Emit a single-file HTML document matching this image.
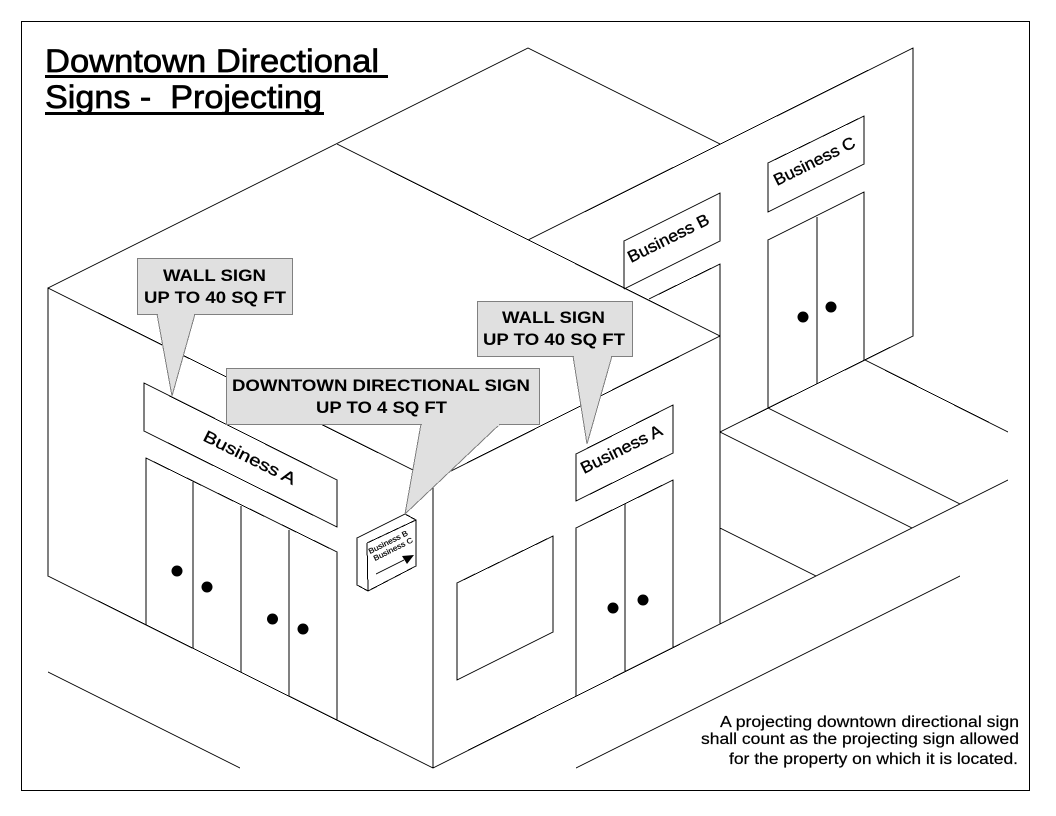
<!DOCTYPE html>
<html><head><meta charset="utf-8"><style>
html,body{margin:0;padding:0;background:#fff;width:1056px;height:816px;overflow:hidden}
svg{display:block}
text{font-family:"Liberation Sans",sans-serif;fill:#000;white-space:pre}
.l{fill:none;stroke:#000;stroke-width:1;shape-rendering:crispEdges}
.c{fill:#e0e0e0;stroke:#808080;stroke-width:1;shape-rendering:crispEdges}
.n{fill:#e0e0e0;stroke:none;shape-rendering:crispEdges}
.b{font-weight:bold;font-size:17px}
.s{font-size:16.500px;stroke:#000;stroke-width:.35px}
.t{font-size:32px;stroke:#000;stroke-width:.7px}
.f{font-size:15.500px;stroke:#000;stroke-width:.2px}
.m{font-size:7.500px;stroke:#000;stroke-width:.2px}
</style></head><body>
<svg width="1056" height="816" viewBox="0 0 1056 816" xmlns="http://www.w3.org/2000/svg">
<rect x="21.500" y="21.500" width="1008" height="769" class="l"/>
<g class="l">
<path d="M48 288V576L433 768V480L48 288L528 48L720 144M337 144L720 336V624L433 768M433 480L720 336"/>
<path d="M528 240L913 48V336L720 432"/>
<path d="M865 360L1008 432M768 408L960 504M720 432L912 528M720 528L816 576M720 624L1008 480M576 768L960 576M48 672L240 768"/>
<path d="M144 383L337 480V527L144 431Z"/>
<path d="M146 625V458L337 552V720M193 482V648M241 506V672M289 530V696"/>
<path d="M457 583L553 536V632L457 680Z"/>
<path d="M576 454L673 405V453L576 501Z"/>
<path d="M576 696V528L673 480V648M625 504V672"/>
<path d="M624 289V241L720 193V241L624 289"/>
<path d="M649 299L720 264V336"/>
<path d="M768 163L864 116V164L768 212Z"/>
<path d="M768 408V240L864 192V360M817 217V384"/>
</g>
<g fill="#000">
<circle cx="177" cy="571" r="5.500"/><circle cx="207" cy="587" r="5.500"/>
<circle cx="272.500" cy="619" r="5.500"/><circle cx="303" cy="629" r="5.500"/>
<circle cx="613" cy="608" r="5.500"/><circle cx="643" cy="600" r="5.500"/>
<circle cx="803" cy="317" r="5.500"/><circle cx="831" cy="307" r="5.500"/>
</g>
<path d="M357 538L405 514L416 520V566L368 591L357 585ZM367 543L368 591M367 543L416 520" fill="#fff" stroke="#000" shape-rendering="crispEdges"/>
<path d="M376 574L404 560" stroke="#000" fill="none" shape-rendering="crispEdges"/>
<path d="M402 556L414 555L407 564Z" fill="#000"/>
<text class="m" textLength="43" lengthAdjust="spacingAndGlyphs" transform="translate(370,554) rotate(-26.500)">Business B</text>
<text class="m" textLength="43" lengthAdjust="spacingAndGlyphs" transform="translate(375,561) rotate(-26.500)">Business C</text>

<path class="n" d="M157 314L172 396L195 314Z"/>
<path class="l" style="stroke:#808080" d="M157 314L172 396L195 314"/>
<rect class="c" x="137.500" y="258.500" width="155" height="56"/>
<path class="n" d="M158 313H194V316H158Z"/>
<text class="b" x="163" y="281" textLength="103" lengthAdjust="spacingAndGlyphs">WALL SIGN</text>
<text class="b" x="144" y="303" textLength="142" lengthAdjust="spacingAndGlyphs">UP TO 40 SQ FT</text>

<path class="n" d="M421 424L405 514L500 424Z"/>
<path class="l" style="stroke:#808080" d="M421 424L405 514L500 424"/>
<rect class="c" x="226.500" y="368.500" width="313" height="56"/>
<path class="n" d="M422 423H499V426H422Z"/>
<text class="b" x="232" y="391" textLength="298" lengthAdjust="spacingAndGlyphs">DOWNTOWN DIRECTIONAL SIGN</text>
<text class="b" x="316" y="413" textLength="131" lengthAdjust="spacingAndGlyphs">UP TO 4 SQ FT</text>

<path class="n" d="M573 356L587 444L612 356Z"/>
<path class="l" style="stroke:#808080" d="M573 356L587 444L612 356"/>
<rect class="c" x="477.500" y="301.500" width="155" height="55"/>
<path class="n" d="M574 355H611V358H574Z"/>
<text class="b" x="502" y="323" textLength="103" lengthAdjust="spacingAndGlyphs">WALL SIGN</text>
<text class="b" x="483" y="345" textLength="142" lengthAdjust="spacingAndGlyphs">UP TO 40 SQ FT</text>

<text class="s" textLength="101" lengthAdjust="spacingAndGlyphs" transform="translate(202,440) rotate(26.500)">Business A</text>
<text class="s" textLength="89" lengthAdjust="spacingAndGlyphs" transform="translate(584,474) rotate(-26.500)">Business A</text>
<text class="s" textLength="89" lengthAdjust="spacingAndGlyphs" transform="translate(631,263) rotate(-26.500)">Business B</text>
<text class="s" textLength="89" lengthAdjust="spacingAndGlyphs" transform="translate(777,186) rotate(-26.500)">Business C</text>

<text class="t" x="45" y="72" textLength="334" lengthAdjust="spacingAndGlyphs">Downtown Directional</text>
<rect x="45" y="75" width="343" height="3" fill="#000"/>
<text class="t" x="45" y="108" textLength="277" lengthAdjust="spacingAndGlyphs">Signs -  Projecting</text>
<rect x="45" y="112" width="279" height="3" fill="#000"/>

<text class="f" x="720" y="727" textLength="299" lengthAdjust="spacingAndGlyphs">A projecting downtown directional sign</text>
<text class="f" x="701" y="744" textLength="318" lengthAdjust="spacingAndGlyphs">shall count as the projecting sign allowed</text>
<text class="f" x="729" y="764" textLength="289" lengthAdjust="spacingAndGlyphs">for the property on which it is located.</text>
</svg>
</body></html>
